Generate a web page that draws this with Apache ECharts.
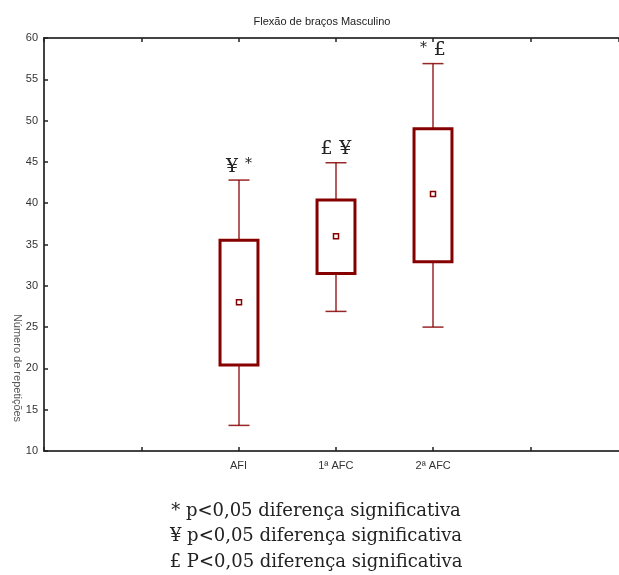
<!DOCTYPE html>
<html>
<head>
<meta charset="utf-8">
<title>Flexão de braços Masculino</title>
<script src="https://cdn.jsdelivr.net/npm/echarts@6/dist/echarts.min.js"></script>
<style>
    body { margin: 0; padding: 0; background: #fff; }
    #chart { width: 619px; height: 575px; }
</style>
</head>
<body>
<div id="chart"></div>
<script type="text/javascript">
// tick labels on the x axis (positions 1..5), only the middle three have names
var tickLabels = ['', 'AFI', '1ª AFC', '2ª AFC', ''];
var groups = ['AFI', '1ª AFC', '2ª AFC'];
var lowVals = [13.1, 26.9, 25.0];
var q1Vals = [20.4, 31.5, 32.9];
var meanVals = [28.0, 36.0, 41.1];
var q3Vals = [35.5, 40.4, 49.0];
var highVals = [42.8, 44.9, 56.9];
var marks = ['¥ *', '£ ¥', '* £'];
var notes = [
    '* p<0,05 diferença significativa',
    '¥ p<0,05 diferença significativa',
    '£ P<0,05 diferença significativa'
];

var red = '#870000';
var axisColor = '#444';

var seriesData = groups.map(function (g, i) {
    return [tickLabels.indexOf(g) + 1, lowVals[i], q1Vals[i], meanVals[i], q3Vals[i], highVals[i], i];
});

function richMark(s) {
    return s.split('').map(function (ch) {
        if (ch === ' ') return '  ';
        return ch === '*' ? '{s|*}' : '{c|' + ch + '}';
    }).join('');
}

function renderBox(params, api) {
    var x = api.value(0);
    var pLow = api.coord([x, api.value(1)]);
    var pQ1 = api.coord([x, api.value(2)]);
    var pMean = api.coord([x, api.value(3)]);
    var pQ3 = api.coord([x, api.value(4)]);
    var pHigh = api.coord([x, api.value(5)]);
    var cx = Math.round(pLow[0]);
    var halfW = api.size([0.39, 0])[0] / 2;
    var capW = 10.5;
    var thin = { stroke: red, lineWidth: 1.5, opacity: 0.85 };
    return {
        type: 'group',
        children: [
            { type: 'line', shape: { x1: cx, y1: pLow[1], x2: cx, y2: pQ1[1] }, style: thin },
            { type: 'line', shape: { x1: cx, y1: pQ3[1], x2: cx, y2: pHigh[1] }, style: thin },
            { type: 'line', shape: { x1: cx - capW, y1: pLow[1], x2: cx + capW, y2: pLow[1] }, style: thin },
            { type: 'line', shape: { x1: cx - capW, y1: pHigh[1], x2: cx + capW, y2: pHigh[1] }, style: thin },
            {
                type: 'rect',
                shape: { x: cx - halfW, y: pQ3[1], width: halfW * 2, height: pQ1[1] - pQ3[1] },
                style: { fill: '#fff', stroke: red, lineWidth: 3 }
            },
            {
                type: 'rect',
                shape: { x: cx - 2.5, y: pMean[1] - 2.5, width: 5, height: 5 },
                style: { fill: '#fff', stroke: red, lineWidth: 1.5 }
            },
            {
                type: 'text',
                x: cx,
                y: pHigh[1] - 4,
                style: {
                    text: richMark(marks[api.value(6)]),
                    align: 'center',
                    verticalAlign: 'bottom',
                    rich: {
                        c: { fontFamily: 'DejaVu Serif', fontSize: 19, fill: '#222' },
                        s: { fontFamily: 'DejaVu Serif', fontSize: 14, fill: '#222', padding: [0, 0, 4, 0] }
                    }
                }
            }
        ]
    };
}

var myChart = echarts.init(document.getElementById('chart'));

var option = {
    animation: false,
    title: {
        text: 'Flexão de braços Masculino',
        left: 317,
        textAlign: 'center',
        top: 11,
        textStyle: { fontFamily: 'Liberation Sans Narrow, Arial', fontSize: 11, fontWeight: 'normal', color: '#222' }
    },
    grid: { left: 44, right: 0, top: 38, bottom: 124 },
    xAxis: [{
        type: 'value',
        min: 0,
        max: 5.91,
        interval: 1,
        position: 'bottom',
        splitLine: { show: false },
        axisLine: { lineStyle: { color: axisColor, width: 2 } },
        axisTick: { inside: true, length: 4, lineStyle: { color: '#222', width: 1.5 } },
        axisLabel: {
            margin: 9,
            fontFamily: 'Liberation Sans Narrow, Arial',
            fontSize: 11,
            color: '#333',
            showMaxLabel: false,
            formatter: function (v) { return tickLabels[v - 1] || ''; }
        }
    }, {
        type: 'value',
        min: 0,
        max: 5.91,
        interval: 1,
        position: 'top',
        splitLine: { show: false },
        axisLine: { lineStyle: { color: axisColor, width: 2 } },
        axisTick: { inside: true, length: 4, lineStyle: { color: '#222', width: 1.5 } },
        axisLabel: { show: false }
    }],
    yAxis: {
        type: 'value',
        min: 10,
        max: 60,
        interval: 5,
        splitLine: { show: false },
        axisLine: { show: true, lineStyle: { color: axisColor, width: 2 } },
        axisTick: { inside: true, length: 4, lineStyle: { color: '#222', width: 1.5 } },
        axisLabel: { margin: 6, fontFamily: 'Liberation Sans Narrow, Arial', fontSize: 11, color: '#333' }
    },
    graphic: [{
        type: 'text',
        x: 17,
        y: 368,
        rotation: -Math.PI / 2,
        style: {
            text: 'Número de repetições',
            align: 'center',
            verticalAlign: 'middle',
            fontFamily: 'Liberation Sans Narrow, Arial',
            fontSize: 11,
            fill: '#555'
        }
    }].concat(notes.map(function (t, i) {
        return {
            type: 'text',
            x: 316,
            y: 511 + i * 25.5,
            style: {
                text: t,
                align: 'center',
                verticalAlign: 'middle',
                fontFamily: 'DejaVu Serif',
                fontSize: 18,
                fill: '#222'
            }
        };
    })),
    series: [{
        type: 'custom',
        xAxisIndex: 0,
        renderItem: renderBox,
        data: seriesData,
        encode: { x: 0, y: [1, 5] }
    }]
};
myChart.setOption(option);
</script>
</body>
</html>
